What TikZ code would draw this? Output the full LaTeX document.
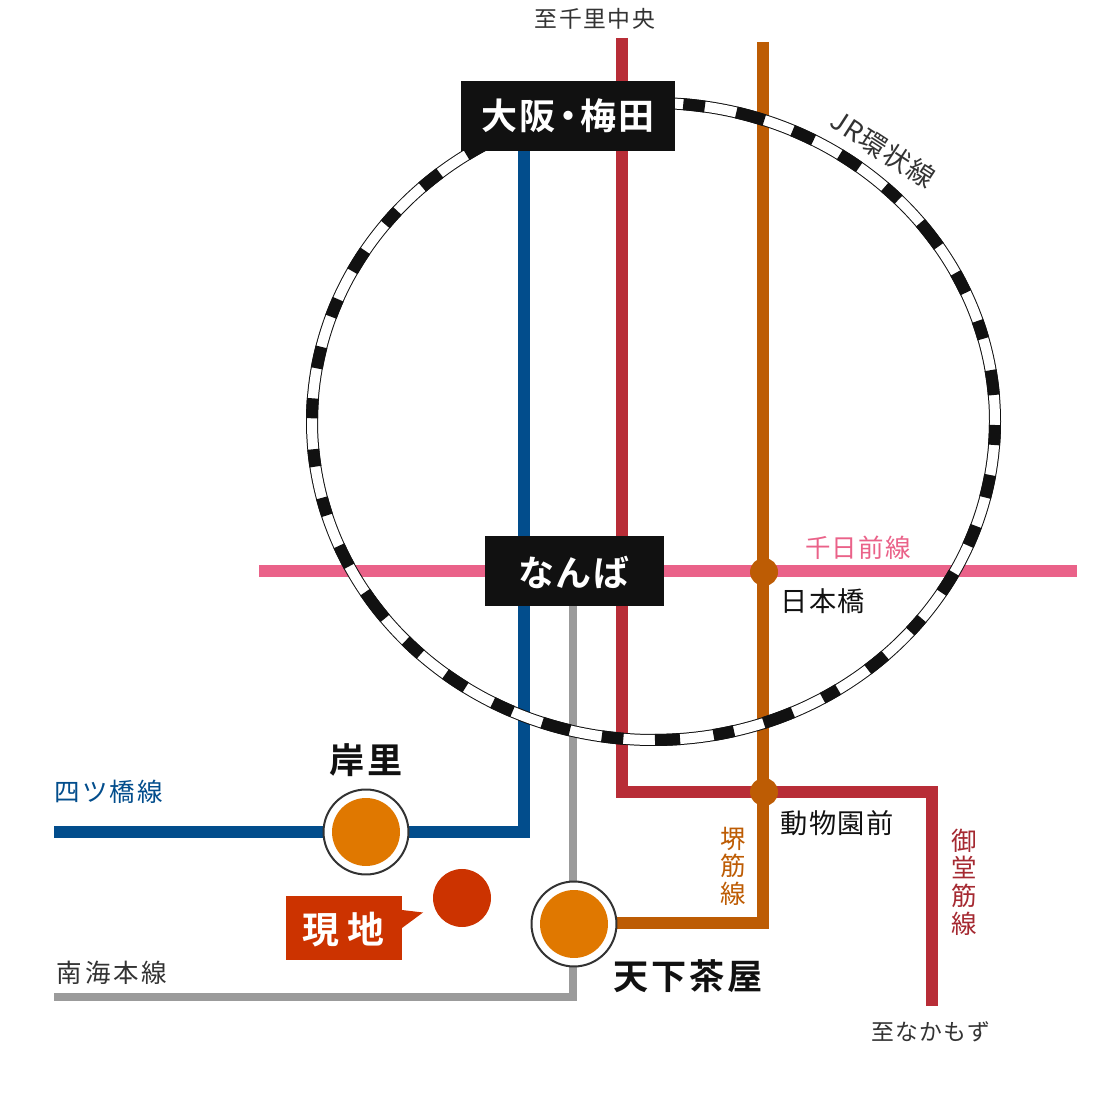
\documentclass[tikz,border=0pt]{standalone}
\usepackage{fontspec}
\setmainfont{Noto Sans CJK JP}[BoldFont={Noto Sans CJK JP Bold}]
\definecolor{sakaisuji}{HTML}{BD5C04}
\definecolor{midosuji}{HTML}{B82D37}
\definecolor{yotsubashi}{HTML}{024D8C}
\definecolor{sennichimae}{HTML}{EA6289}
\definecolor{nankai}{HTML}{9B9B9B}
\definecolor{genchi}{HTML}{CC3300}
\definecolor{stationfill}{HTML}{E07800}
\definecolor{labelblack}{HTML}{111111}
\definecolor{labelgray}{HTML}{333333}
\newcommand{\mapfont}[2]{\fontsize{#1pt}{15.7pt}\selectfont\addfontfeature{LetterSpace=#2}}
\newcommand{\platefont}[2]{\fontsize{#1pt}{24pt}\selectfont\bfseries\addfontfeature{LetterSpace=#2}}
\tikzset{
	railline/.style = {line width=0.24cm},
	ringdash/.style = {labelblack, line width=0.24cm},
	hub/.style = {circle, fill=sakaisuji, minimum size=0.56cm, inner sep=0},
	stationring/.style = {circle, draw=labelgray, line width=0.04cm, fill=white, minimum size=1.7cm, inner sep=0},
	stationdot/.style = {circle, fill=stationfill, minimum size=1.36cm, inner sep=0},
	platetext/.style = {text=white, inner sep=0},
	maptext/.style = {inner sep=0, text=labelgray},
	nametext/.style = {inner sep=0, text=labelblack, font=\platefont{20}{8}},
}
\begin{document}
\begin{tikzpicture}[x=0.02cm, y=-0.02cm]
	\useasboundingbox (0, 0) rectangle (1120, 1114);

	% draw the lines
	\draw [railline, yotsubashi] (524, 150) -- (524, 832) -- (54, 832);
	\draw [railline, midosuji] (622, 38) -- (622, 792) -- (932, 792) -- (932, 1006);
	\draw [railline, sakaisuji] (763, 42) -- (763, 923) -- (610, 923);
	\draw [railline, sennichimae] (259, 571) -- (1077, 571);
	\draw [nankai, line width=0.16cm] (573, 600) -- (573, 997) -- (54, 997);

	% draw the loop line
	\draw [ringdash] (653.5, 421.5) ellipse [x radius=341.5, y radius=318.5];
	\draw [white, line width=0.2cm] (653.5, 421.5) ellipse [x radius=341.5, y radius=318.5];
	\foreach \a/\b in {-85/-81.35, -75.97/-71.07, -65.97/-62.05, -56.94/-52.96, -47.4/-44.15, -38.6/-33.36,
			-27.8/-23.85, -18.4/-15.06, -9.27/-4.77, 0.63/4.23, 9.67/13.8, 19.16/22.92,
			28.37/32.5, 38.22/41.26, 47.25/51.14, 57.29/60.32, 65.92/71.17, 76.36/79.88,
			85.54/89.75, 95.07/98.71, 104.17/109.02, 114.38/118.08, 123.38/127.53, 133.01/136.53,
			141.83/147.6, 152.97/157.03, 162.87/166.13, 171.85/175, 180.58/184.17, 189.61/193.55,
			199.21/202.57, 208.15/212.41, 218.23/221.39, 227.37/231.26, 236.8/240.5}
		\draw [ringdash] (653.5, 421.5) ++ (\a:341.5 and 318.5) arc [start angle=\a, end angle=\b, x radius=341.5, y radius=318.5];

	% junctions
	\node [hub] (nipponbashi) at (764, 572) {};
	\node [hub] (dobutsuen) at (764, 792) {};

	% stations
	\node [stationring] (kishinosato) at (366, 832) {};
	\node [stationdot] at (kishinosato) {};
	\node [stationring] (tengachaya) at (574, 924) {};
	\node [stationdot] at (tengachaya) {};

	% black plates
	\fill [labelblack] (461, 81) rectangle (675, 151);
	\node [platetext, font=\platefont{20.5}{5}] (umeda) at (568, 116) {大阪\hspace{-0.15em}・\hspace{-0.15em}梅田};
	\fill [labelblack] (485, 536) rectangle (664, 606);
	\node [platetext, font=\platefont{20.5}{5}] (namba) at (574, 572) {なんば};

	% site marker
	\fill [genchi] (462, 898) circle [radius=29];
	\fill [genchi] (286, 896) rectangle (402, 960);
	\fill [genchi] (402, 910) -- (423, 912.5) -- (402, 928) -- cycle;
	\node [platetext, font=\platefont{21}{5}] (site) at (343, 930) {現\hspace{0.22em}地};

	% labels
	\node [maptext, font=\mapfont{13}{7}] (senri) at (595, 19) {至千里中央};
	\node [maptext, font=\mapfont{15.3}{5}, rotate=-33] (loopname) at (883, 149) {JR環状線};
	\node [maptext, text=sennichimae, font=\mapfont{14.5}{5}] (sennichimaename) at (858, 548) {千日前線};
	\node [maptext, text=labelblack, font=\mapfont{15.5}{5}] (nipponbashiname) at (823, 601) {日本橋};
	\node [maptext, text=labelblack, font=\mapfont{15.5}{5}] (dobutsuenname) at (837, 823) {動物園前};
	\node [maptext, text=yotsubashi, font=\mapfont{14.5}{8}] (yotsubashiname) at (109, 792) {四ツ橋線};
	\node [maptext, font=\mapfont{14.5}{11}] (nankainame) at (112, 973) {南海本線};
	\node [maptext, font=\mapfont{13}{6}] (nakamozu) at (931, 1032) {至なかもず};
	\node [maptext, text=sakaisuji, align=center, font=\mapfont{14.5}{0}] (sakaisujiname) at (733, 866) {堺\\筋\\線};
	\node [maptext, text=midosuji!90!black, align=center, font=\mapfont{14.5}{0}] (midosujiname) at (964, 882) {御\\堂\\筋\\線};
	\node [nametext] (kishinosatoname) at (366, 760) {岸里};
	\node [nametext] (tengachayaname) at (688, 976) {天下茶屋};
\end{tikzpicture}
\end{document}
